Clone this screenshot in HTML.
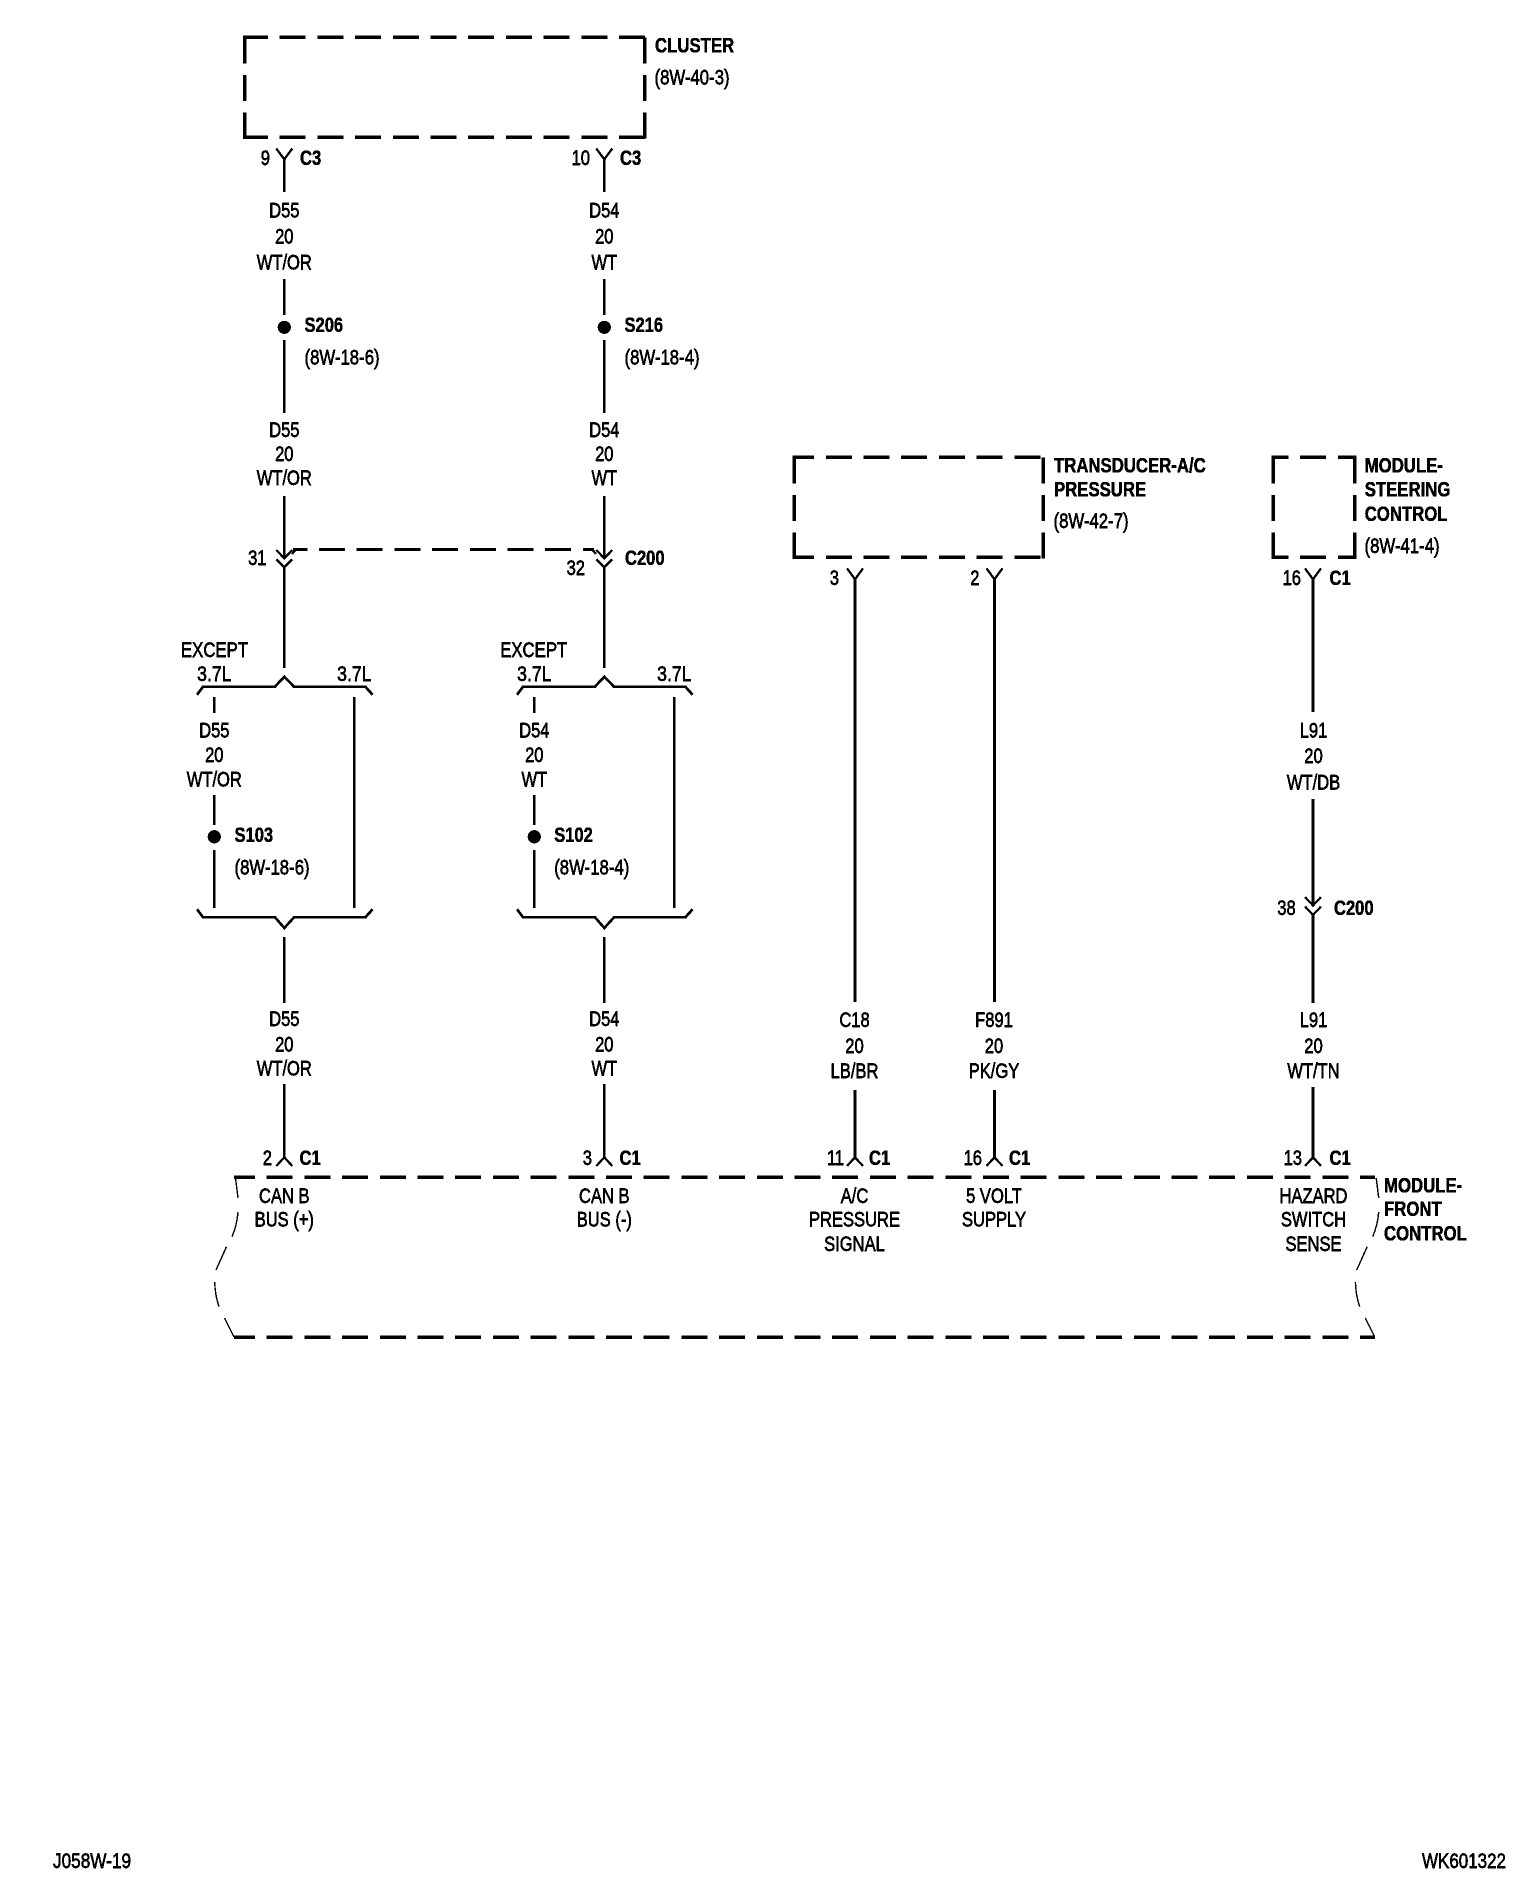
<!DOCTYPE html>
<html>
<head>
<meta charset="utf-8">
<style>
html,body{margin:0;padding:0;background:#fff}
svg{display:block}
text{font-family:"Liberation Sans",Arial,sans-serif;font-size:21.5px;fill:#000;stroke:#000;stroke-width:.7px}
.b{font-weight:bold;stroke-width:.5px}
.m{text-anchor:middle}
.e{text-anchor:end}
.w{fill:none;stroke:#000;stroke-width:2.7}
.f{fill:none;stroke:#000;stroke-width:2.3}
.d{fill:none;stroke:#000;stroke-width:3.4;stroke-dasharray:26 11.7;shape-rendering:crispEdges}
.t{fill:none;stroke:#000;stroke-width:1.4}
</style>
</head>
<body>
<svg xmlns="http://www.w3.org/2000/svg" width="1536" height="1894" viewBox="0 0 1536 1894">
<defs>
<filter id="bin" filterUnits="userSpaceOnUse" x="0" y="0" width="1536" height="1894" color-interpolation-filters="sRGB">
<feComponentTransfer>
<feFuncR type="discrete" tableValues="0 1"/>
<feFuncG type="discrete" tableValues="0 1"/>
<feFuncB type="discrete" tableValues="0 1"/>
</feComponentTransfer>
</filter>
</defs>
<g filter="url(#bin)">
<rect width="1536" height="1894" fill="#fff"/>

<!-- Cluster box -->
<path class="d" d="M243 37.3H646" stroke-dashoffset="1"/>
<path class="d" d="M243 137.3H646" stroke-dashoffset="1"/>
<path class="d" d="M244.6 37.3V139"/>
<path class="d" d="M644.6 37.3V139"/>

<!-- Transducer box -->
<path class="d" d="M792.5 457.3H1045" stroke-dashoffset="4.4"/>
<path class="d" d="M792.5 557.3H1045" stroke-dashoffset="4.4"/>
<path class="d" d="M794.4 457.3V559"/>
<path class="d" d="M1043.3 457.3V559"/>

<!-- Steering box -->
<path class="d" d="M1271.5 457.3H1356.5" stroke-dashoffset="9"/>
<path class="d" d="M1271.5 557.3H1356.5" stroke-dashoffset="9"/>
<path class="d" d="M1273.3 457.3V559"/>
<path class="d" d="M1354.6 457.3V559"/>

<!-- Front control box -->
<path class="d" d="M234 1177.3H1375" stroke-dashoffset="5"/>
<path class="d" d="M234 1337.3H1375" stroke-dashoffset="5"/>
<path class="t" d="M235.5 1178L238 1198M238 1212Q237 1225 232 1236.7M226.5 1246.7L216 1270M214.7 1282Q215 1295 219 1306.7M224.5 1318L234 1337"/>
<g transform="translate(1140.7 0)">
<path class="t" d="M235.5 1178L238 1198M238 1212Q237 1225 232 1236.7M226.5 1246.7L216 1270M214.7 1282Q215 1295 219 1306.7M224.5 1318L234 1337"/>
</g>

<!-- D55 column -->
<path class="w" d="M284.3 159.3V191.7M284.3 279V315M284.3 340V413M284.3 496V558.3M284.3 567.3V667.7"/>
<path class="f" d="M276.3 148.5L284.3 159.3L292.3 148.5M276.3 550L284.3 558.3L292.3 550M276.3 559.3L284.3 567.3L292.3 559.3"/>
<circle cx="284.3" cy="327.3" r="6.6"/>
<path class="w" d="M197 694.7L203 686.7H275L284.3 676.7L294 686.7H365.4L372.5 694.7"/>
<path class="w" d="M214.3 697.3V712.7M214.3 795V825M214.3 850V907.7M354.3 697.3V907.7"/>
<circle cx="214.3" cy="836.7" r="6.6"/>
<path class="w" d="M197 909.3L203 917.3H275L284.3 928L294 917.3H365.4L372.5 909.3"/>
<path class="w" d="M284.3 937.3V1003M284.3 1084V1157.3"/>
<path class="f" d="M276.3 1166L284.3 1157.3L292.3 1166"/>

<!-- D54 column -->
<path class="w" d="M604.3 159.3V191.7M604.3 279V315M604.3 340V413M604.3 496V558.3M604.3 567.3V667.7"/>
<path class="f" d="M596.3 148.5L604.3 159.3L612.3 148.5M596.3 550L604.3 558.3L612.3 550M596.3 559.3L604.3 567.3L612.3 559.3"/>
<circle cx="604.3" cy="327.3" r="6.6"/>
<path class="w" d="M517 694.7L523 686.7H595L604.3 676.7L614 686.7H685.4L692.5 694.7"/>
<path class="w" d="M534.3 697.3V712.7M534.3 795V825M534.3 850V907.7M674.3 697.3V907.7"/>
<circle cx="534.3" cy="836.7" r="6.6"/>
<path class="w" d="M517 909.3L523 917.3H595L604.3 928L614 917.3H685.4L692.5 909.3"/>
<path class="w" d="M604.3 937.3V1003M604.3 1084V1157.3"/>
<path class="f" d="M596.3 1166L604.3 1157.3L612.3 1166"/>

<!-- C200 dashed link -->
<path class="d" style="stroke-width:3" d="M293 549.3H594" stroke-dashoffset="11.7"/>
<path class="f" d="M292 554L296 549.3M592 549.3L596 554"/>

<!-- C18 / F891 -->
<path class="w" d="M855 579.3V1002M855 1090V1157.3M994.5 579.3V1002M994.5 1090V1157.3"/>
<path class="f" d="M847 568.3L855 579.3L863 568.3M847 1166L855 1157.3L863 1166M986.5 568.3L994.5 579.3L1002.5 568.3M986.5 1166L994.5 1157.3L1002.5 1166"/>

<!-- L91 -->
<path class="w" d="M1313 579.3V712M1313 799V905.5M1313 915V1003M1313 1087V1157.3"/>
<path class="f" d="M1305 568.3L1313 579.3L1321 568.3M1305 897L1313 905.5L1321 897M1305 906.5L1313 915L1321 906.5M1305 1166L1313 1157.3L1321 1166"/>

<!-- Top labels -->
<text class="b" transform="matrix(.78 0 0 1 655 52.5)">CLUSTER</text>
<text transform="matrix(.78 0 0 1 654.5 84.3)">(8W-40-3)</text>
<text class="e" transform="matrix(.77 0 0 1 270 165)">9</text>
<text class="b" transform="matrix(.77 0 0 1 300 165)">C3</text>
<text class="e" transform="matrix(.77 0 0 1 590 165)">10</text>
<text class="b" transform="matrix(.77 0 0 1 620 165)">C3</text>

<text class="m" transform="matrix(.77 0 0 1 284.3 217.3)">D55</text>
<text class="m" transform="matrix(.77 0 0 1 284.3 243.5)">20</text>
<text class="m" transform="matrix(.77 0 0 1 284.3 269.5)">WT/OR</text>
<text class="m" transform="matrix(.77 0 0 1 604.3 217.3)">D54</text>
<text class="m" transform="matrix(.77 0 0 1 604.3 243.5)">20</text>
<text class="m" transform="matrix(.77 0 0 1 604.3 269.5)">WT</text>

<text class="b" transform="matrix(.77 0 0 1 304.5 331.8)">S206</text>
<text transform="matrix(.78 0 0 1 304.5 364.5)">(8W-18-6)</text>
<text class="b" transform="matrix(.77 0 0 1 624.5 331.8)">S216</text>
<text transform="matrix(.78 0 0 1 624.5 364.5)">(8W-18-4)</text>

<text class="m" transform="matrix(.77 0 0 1 284.3 437.2)">D55</text>
<text class="m" transform="matrix(.77 0 0 1 284.3 461.2)">20</text>
<text class="m" transform="matrix(.77 0 0 1 284.3 485.2)">WT/OR</text>
<text class="m" transform="matrix(.77 0 0 1 604.3 437.2)">D54</text>
<text class="m" transform="matrix(.77 0 0 1 604.3 461.2)">20</text>
<text class="m" transform="matrix(.77 0 0 1 604.3 485.2)">WT</text>

<text class="e" transform="matrix(.77 0 0 1 266.5 565)">31</text>
<text class="e" transform="matrix(.77 0 0 1 585 575)">32</text>
<text class="b" transform="matrix(.77 0 0 1 625 565)">C200</text>

<!-- Except labels -->
<text transform="matrix(.78 0 0 1 181 657)">EXCEPT</text>
<text class="m" transform="matrix(.82 0 0 1 214.3 681.2)">3.7L</text>
<text class="m" transform="matrix(.82 0 0 1 354.3 681.2)">3.7L</text>
<text transform="matrix(.78 0 0 1 500.2 657)">EXCEPT</text>
<text class="m" transform="matrix(.82 0 0 1 534.3 681.2)">3.7L</text>
<text class="m" transform="matrix(.82 0 0 1 674.3 681.2)">3.7L</text>

<text class="m" transform="matrix(.77 0 0 1 214.3 737.7)">D55</text>
<text class="m" transform="matrix(.77 0 0 1 214.3 762)">20</text>
<text class="m" transform="matrix(.77 0 0 1 214.3 786.3)">WT/OR</text>
<text class="m" transform="matrix(.77 0 0 1 534.3 737.7)">D54</text>
<text class="m" transform="matrix(.77 0 0 1 534.3 762)">20</text>
<text class="m" transform="matrix(.77 0 0 1 534.3 786.3)">WT</text>

<text class="b" transform="matrix(.77 0 0 1 234.5 842)">S103</text>
<text transform="matrix(.78 0 0 1 234.5 874.5)">(8W-18-6)</text>
<text class="b" transform="matrix(.77 0 0 1 554.2 842)">S102</text>
<text transform="matrix(.78 0 0 1 554.2 874.5)">(8W-18-4)</text>

<text class="m" transform="matrix(.77 0 0 1 284.3 1026.2)">D55</text>
<text class="m" transform="matrix(.77 0 0 1 284.3 1051.7)">20</text>
<text class="m" transform="matrix(.77 0 0 1 284.3 1075.7)">WT/OR</text>
<text class="m" transform="matrix(.77 0 0 1 604.3 1026.2)">D54</text>
<text class="m" transform="matrix(.77 0 0 1 604.3 1051.7)">20</text>
<text class="m" transform="matrix(.77 0 0 1 604.3 1075.7)">WT</text>

<!-- Transducer labels -->
<text class="b" transform="matrix(.78 0 0 1 1054 472.5)">TRANSDUCER-A/C</text>
<text class="b" transform="matrix(.78 0 0 1 1054 496.5)">PRESSURE</text>
<text transform="matrix(.78 0 0 1 1053.5 528.2)">(8W-42-7)</text>
<text class="e" transform="matrix(.77 0 0 1 839 585)">3</text>
<text class="e" transform="matrix(.77 0 0 1 979.5 585)">2</text>

<!-- Steering labels -->
<text class="b" transform="matrix(.78 0 0 1 1364.7 472.5)">MODULE-</text>
<text class="b" transform="matrix(.78 0 0 1 1364.7 496.5)">STEERING</text>
<text class="b" transform="matrix(.78 0 0 1 1364.7 521)">CONTROL</text>
<text transform="matrix(.78 0 0 1 1364.5 553.2)">(8W-41-4)</text>
<text class="e" transform="matrix(.77 0 0 1 1301 585)">16</text>
<text class="b" transform="matrix(.77 0 0 1 1329.5 585)">C1</text>

<text class="m" transform="matrix(.77 0 0 1 1313.5 737.7)">L91</text>
<text class="m" transform="matrix(.77 0 0 1 1313.5 763.2)">20</text>
<text class="m" transform="matrix(.77 0 0 1 1313.5 789.7)">WT/DB</text>
<text class="e" transform="matrix(.77 0 0 1 1295.7 915)">38</text>
<text class="b" transform="matrix(.77 0 0 1 1334 915)">C200</text>

<text class="m" transform="matrix(.77 0 0 1 854.5 1027.2)">C18</text>
<text class="m" transform="matrix(.77 0 0 1 854.5 1053)">20</text>
<text class="m" transform="matrix(.77 0 0 1 854.5 1078.2)">LB/BR</text>
<text class="m" transform="matrix(.77 0 0 1 994 1027.2)">F891</text>
<text class="m" transform="matrix(.77 0 0 1 994 1053)">20</text>
<text class="m" transform="matrix(.77 0 0 1 994 1078.2)">PK/GY</text>
<text class="m" transform="matrix(.77 0 0 1 1313.5 1027.2)">L91</text>
<text class="m" transform="matrix(.77 0 0 1 1313.5 1053)">20</text>
<text class="m" transform="matrix(.77 0 0 1 1313.5 1078.2)">WT/TN</text>

<!-- Bottom connector labels -->
<text class="e" transform="matrix(.77 0 0 1 272 1165)">2</text>
<text class="b" transform="matrix(.77 0 0 1 299.5 1165)">C1</text>
<text class="e" transform="matrix(.77 0 0 1 592 1165)">3</text>
<text class="b" transform="matrix(.77 0 0 1 619.5 1165)">C1</text>
<text class="e" transform="matrix(.77 0 0 1 844 1165)">11</text>
<text class="b" transform="matrix(.77 0 0 1 869 1165)">C1</text>
<text class="e" transform="matrix(.77 0 0 1 982 1165)">16</text>
<text class="b" transform="matrix(.77 0 0 1 1009 1165)">C1</text>
<text class="e" transform="matrix(.77 0 0 1 1302 1165)">13</text>
<text class="b" transform="matrix(.77 0 0 1 1329.5 1165)">C1</text>

<text class="m" transform="matrix(.77 0 0 1 284.3 1203)">CAN B</text>
<text class="m" transform="matrix(.77 0 0 1 284.3 1226.5)">BUS (+)</text>
<text class="m" transform="matrix(.77 0 0 1 604.3 1203)">CAN B</text>
<text class="m" transform="matrix(.77 0 0 1 604.3 1226.5)">BUS (-)</text>
<text class="m" transform="matrix(.77 0 0 1 854.5 1203)">A/C</text>
<text class="m" transform="matrix(.77 0 0 1 854.5 1226.5)">PRESSURE</text>
<text class="m" transform="matrix(.77 0 0 1 854.5 1251)">SIGNAL</text>
<text class="m" transform="matrix(.77 0 0 1 994 1203)">5 VOLT</text>
<text class="m" transform="matrix(.77 0 0 1 994 1226.5)">SUPPLY</text>
<text class="m" transform="matrix(.77 0 0 1 1313.5 1203)">HAZARD</text>
<text class="m" transform="matrix(.77 0 0 1 1313.5 1226.5)">SWITCH</text>
<text class="m" transform="matrix(.77 0 0 1 1313.5 1251)">SENSE</text>

<text class="b" transform="matrix(.78 0 0 1 1384 1192.5)">MODULE-</text>
<text class="b" transform="matrix(.78 0 0 1 1384 1216)">FRONT</text>
<text class="b" transform="matrix(.78 0 0 1 1384 1240.5)">CONTROL</text>

<!-- Footer -->
<text transform="matrix(.8 0 0 1 53 1868)">J058W-19</text>
<text class="e" transform="matrix(.79 0 0 1 1506 1868)">WK601322</text>
</g>
</svg>
</body>
</html>
